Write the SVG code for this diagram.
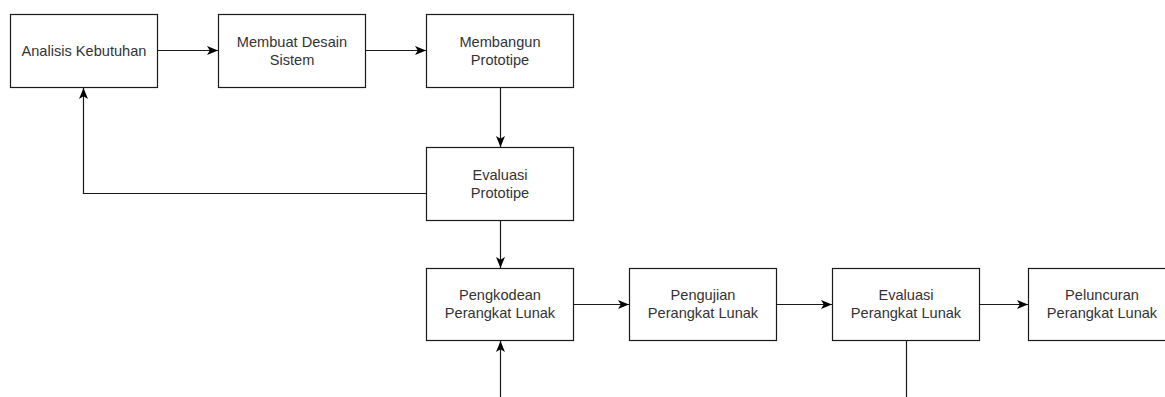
<svg xmlns="http://www.w3.org/2000/svg" width="1165" height="397" viewBox="0 0 1165 397">
  <style>
    .box { fill: #ffffff; stroke: #1a1a1a; stroke-width: 1.2; }
    .lbl { font-family: "Liberation Sans", Arial, sans-serif; font-size: 14.6px; fill: #333333; text-anchor: middle; dominant-baseline: central; }
    .edge { fill: none; stroke: #1a1a1a; stroke-width: 1.2; }
  </style>
  <defs>
    <marker id="arrow" markerUnits="userSpaceOnUse" markerWidth="12" markerHeight="10" viewBox="0 0 12 10" refX="11" refY="5" orient="auto">
      <path d="M0,0.5 L11,5 L0,9.5 L2.8,5 Z" fill="#000000"/>
    </marker>
  </defs>
  <rect width="1165" height="397" fill="#ffffff"/>

  <g id="edges">
    <path class="edge" d="M157.5,50.5 H218" marker-end="url(#arrow)"/>
    <path class="edge" d="M365.5,50.5 H426" marker-end="url(#arrow)"/>
    <path class="edge" d="M500.5,87.5 V147" marker-end="url(#arrow)"/>
    <path class="edge" d="M426.5,193.5 H83.5 V88" marker-end="url(#arrow)"/>
    <path class="edge" d="M500.5,220.5 V268" marker-end="url(#arrow)"/>
    <path class="edge" d="M500.5,397 V341" marker-end="url(#arrow)"/>
    <path class="edge" d="M573.5,304.5 H629" marker-end="url(#arrow)"/>
    <path class="edge" d="M776.5,304.5 H832" marker-end="url(#arrow)"/>
    <path class="edge" d="M979.5,304.5 H1028" marker-end="url(#arrow)"/>
    <path class="edge" d="M906.5,340.5 V397"/>
  </g>

  <g id="analisis-kebutuhan">
    <rect class="box" x="10.5" y="14.5" width="147" height="73"/>
    <text class="lbl" x="84" y="51">Analisis Kebutuhan</text>
  </g>
  <g id="membuat-desain">
    <rect class="box" x="218.5" y="14.5" width="147" height="73"/>
    <text class="lbl" x="292" y="42">Membuat Desain</text>
    <text class="lbl" x="292" y="60">Sistem</text>
  </g>
  <g id="membangun-prototipe">
    <rect class="box" x="426.5" y="14.5" width="147" height="73"/>
    <text class="lbl" x="500" y="42">Membangun</text>
    <text class="lbl" x="500" y="60">Prototipe</text>
  </g>
  <g id="evaluasi-prototipe">
    <rect class="box" x="426.5" y="147.5" width="147" height="73"/>
    <text class="lbl" x="500" y="175">Evaluasi</text>
    <text class="lbl" x="500" y="193">Prototipe</text>
  </g>
  <g id="pengkodean">
    <rect class="box" x="426.5" y="268.5" width="147" height="72"/>
    <text class="lbl" x="500" y="295">Pengkodean</text>
    <text class="lbl" x="500" y="313">Perangkat Lunak</text>
  </g>
  <g id="pengujian">
    <rect class="box" x="629.5" y="268.5" width="147" height="72"/>
    <text class="lbl" x="703" y="295">Pengujian</text>
    <text class="lbl" x="703" y="313">Perangkat Lunak</text>
  </g>
  <g id="evaluasi-pl">
    <rect class="box" x="832.5" y="268.5" width="147" height="72"/>
    <text class="lbl" x="906" y="295">Evaluasi</text>
    <text class="lbl" x="906" y="313">Perangkat Lunak</text>
  </g>
  <g id="peluncuran">
    <rect class="box" x="1028.5" y="268.5" width="147" height="72"/>
    <text class="lbl" x="1102" y="295">Peluncuran</text>
    <text class="lbl" x="1102" y="313">Perangkat Lunak</text>
  </g>
</svg>
